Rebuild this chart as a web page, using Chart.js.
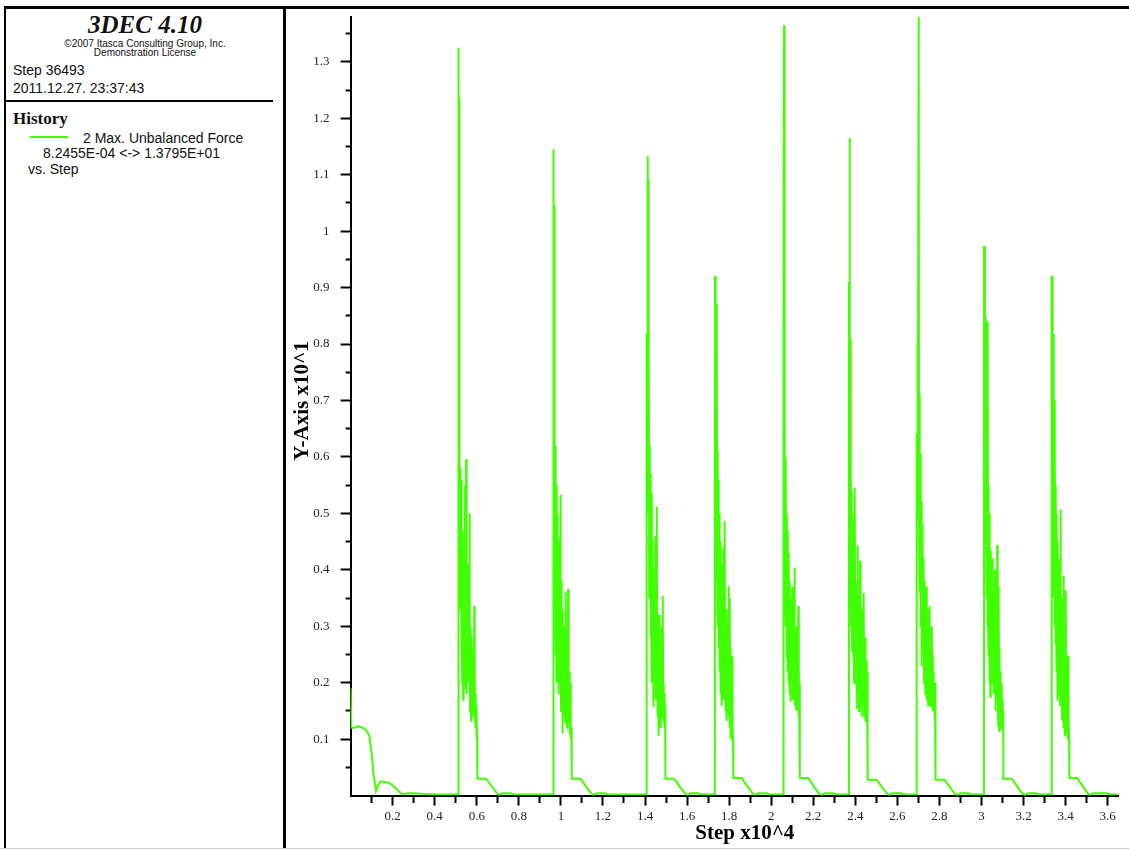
<!DOCTYPE html>
<html>
<head>
<meta charset="utf-8">
<title>3DEC 4.10 - Max. Unbalanced Force</title>
<script src="https://cdn.jsdelivr.net/npm/chart.js@4.4.1/dist/chart.umd.min.js"></script>
<style>
    html, body { margin: 0; padding: 0; background: #fff; }
    body {
        width: 1129px; height: 851px; position: relative; overflow: hidden;
        font-family: 'Liberation Sans', Arial, sans-serif; color: #111;
    }
    .rule { position: absolute; background: #000; }
    .txt { position: absolute; white-space: nowrap; }
    .sans14 { font-size: 14px; line-height: 14px; }
    .small { font-size: 10px; line-height: 10px; left: 5px; width: 280px; text-align: center; }
    .chart-box { position: absolute; left: 287px; top: 9px; width: 842px; height: 839px; }
</style>
</head>
<body>

<!-- frame -->
<div class="rule" style="left:4px; top:6px; width:1125px; height:3px;"></div>
<div class="rule" style="left:4px; top:6px; width:2px; height:843px;"></div>
<div class="rule" style="left:283px; top:6px; width:3px; height:843px;"></div>
<div class="rule" style="left:0; top:848px; width:1129px; height:1px; background:#c8c8c8;"></div>

<!-- title block -->
<div class="txt" style="left:5px; top:12px; width:280px; text-align:center; font:italic bold 25px/25px 'Liberation Serif', serif;">3DEC 4.10</div>
<div class="txt small" style="top:39px;">©2007 Itasca Consulting Group, Inc.</div>
<div class="txt small" style="top:48px;">Demonstration License</div>
<div class="txt sans14" style="left:13px; top:63px;">Step 36493</div>
<div class="txt sans14" style="left:13px; top:81px;">2011.12.27. 23:37:43</div>
<div class="rule" style="left:6px; top:100px; width:267px; height:2px;"></div>

<!-- history legend -->
<div class="txt" style="left:13px; top:110px; font:bold 17px/17px 'Liberation Serif', serif;">History</div>
<div class="rule" style="left:30px; top:136px; width:38px; height:2px; background:#40ff00;"></div>
<div class="txt sans14" style="left:83px; top:131px;">2 Max. Unbalanced Force</div>
<div class="txt sans14" style="left:43px; top:146px;">8.2455E-04 &lt;-&gt; 1.3795E+01</div>
<div class="txt sans14" style="left:28px; top:162px;">vs. Step</div>

<div class="chart-box">
    <canvas id="historyChart" width="842" height="839"></canvas>
</div>

<script>
// axis ranges: last step 36493 (x10^4), max force 1.3795E+01 (x10^1)
const stepMax = 3.6493;
const forceMax = 1.3795;

// [step x10^4, force x10^1], one list per loading cycle
const startup = [
    [0, 0.19], [0.003, 0.12], [0.02, 0.12], [0.035, 0.123], [0.05, 0.121], [0.065, 0.119],
    [0.08, 0.113], [0.09, 0.104], [0.1, 0.075], [0.11, 0.035], [0.121, 0.008], [0.13, 0.018],
    [0.142, 0.025], [0.165, 0.024], [0.185, 0.022], [0.2, 0.018], [0.22, 0.011], [0.24, 0.004],
    [0.25, 0.002], [0.27, 0.004], [0.31, 0.004], [0.34, 0.003], [0.4, 0.002], [0.5, 0.002]
];

const cycle1 = [
    [0.5115, 0.002], [0.512, 0.766], [0.5135, 0.766], [0.514, 1.325], [0.5155, 0.62], [0.516, 1.235],
    [0.5175, 0.45], [0.519, 0.61], [0.5205, 0.38], [0.522, 0.58], [0.5235, 0.33], [0.525, 0.56],
    [0.5265, 0.26], [0.528, 0.52], [0.5295, 0.3], [0.531, 0.2], [0.5325, 0.47], [0.534, 0.25],
    [0.5355, 0.17], [0.537, 0.44], [0.5385, 0.27], [0.54, 0.19], [0.5415, 0.4], [0.543, 0.23],
    [0.5445, 0.55], [0.546, 0.26], [0.5475, 0.21], [0.549, 0.596], [0.5505, 0.3], [0.552, 0.18],
    [0.5535, 0.43], [0.555, 0.24], [0.5565, 0.35], [0.558, 0.2], [0.5595, 0.37], [0.561, 0.23],
    [0.5625, 0.41], [0.564, 0.22], [0.5655, 0.5], [0.567, 0.27], [0.5685, 0.15], [0.57, 0.3],
    [0.5715, 0.18], [0.573, 0.133], [0.5745, 0.28], [0.576, 0.17], [0.5775, 0.25], [0.579, 0.15],
    [0.5805, 0.23], [0.582, 0.14], [0.5835, 0.26], [0.585, 0.19], [0.5865, 0.14], [0.588, 0.336],
    [0.5895, 0.17], [0.591, 0.21], [0.5925, 0.13], [0.594, 0.18], [0.5955, 0.12], [0.597, 0.16],
    [0.5985, 0.1], [0.6, 0.13], [0.602, 0.099], [0.603, 0.03], [0.643, 0.03], [0.65, 0.027],
    [0.67, 0.017], [0.69, 0.007], [0.706, 0.0001], [0.72, 0.004], [0.76, 0.004], [0.775, 0.002],
    [0.9, 0.002], [0.963, 0.002]
];

const cycle2 = [
    [0.9635, 0.002], [0.964, 0.86], [0.9655, 0.86], [0.966, 1.145], [0.9675, 0.55], [0.968, 1.045],
    [0.9695, 0.4], [0.9705, 0.697], [0.9715, 0.33], [0.9725, 0.62], [0.9735, 0.38], [0.9745, 0.6],
    [0.9755, 0.25], [0.9765, 0.5], [0.9775, 0.3], [0.9785, 0.55], [0.9795, 0.2], [0.9805, 0.45],
    [0.9815, 0.27], [0.9825, 0.5], [0.9835, 0.22], [0.9845, 0.4], [0.9855, 0.28], [0.9865, 0.45],
    [0.9875, 0.19], [0.9885, 0.36], [0.9895, 0.18], [0.9905, 0.42], [0.992, 0.24], [0.9935, 0.38],
    [0.995, 0.2], [0.9965, 0.46], [0.998, 0.533], [0.9995, 0.22], [1.001, 0.15], [1.0025, 0.38],
    [1.004, 0.2], [1.0055, 0.32], [1.007, 0.11], [1.0085, 0.28], [1.01, 0.33], [1.0115, 0.17],
    [1.013, 0.27], [1.0145, 0.19], [1.016, 0.3], [1.0175, 0.14], [1.019, 0.24], [1.0205, 0.13],
    [1.022, 0.36], [1.0235, 0.18], [1.025, 0.28], [1.0265, 0.14], [1.028, 0.26], [1.0295, 0.12],
    [1.031, 0.22], [1.0325, 0.15], [1.034, 0.366], [1.0355, 0.16], [1.037, 0.24], [1.0385, 0.13],
    [1.04, 0.22], [1.0415, 0.11], [1.043, 0.18], [1.0445, 0.12], [1.046, 0.2], [1.048, 0.1],
    [1.05, 0.12], [1.051, 0.1], [1.052, 0.03], [1.092, 0.03], [1.099, 0.027], [1.12, 0.016],
    [1.14, 0.006], [1.155, 0.0001], [1.17, 0.004], [1.21, 0.004], [1.225, 0.002], [1.35, 0.002],
    [1.407, 0.002]
];

const cycle3 = [
    [1.4075, 0.002], [1.408, 0.817], [1.412, 0.817], [1.413, 1.133], [1.4145, 0.6], [1.416, 1.091],
    [1.4175, 0.5], [1.419, 0.8], [1.4205, 0.35], [1.422, 0.62], [1.4235, 0.42], [1.425, 0.57],
    [1.4265, 0.28], [1.428, 0.52], [1.4295, 0.33], [1.431, 0.2], [1.4325, 0.536], [1.434, 0.3],
    [1.4355, 0.25], [1.437, 0.45], [1.4385, 0.22], [1.44, 0.38], [1.4415, 0.157], [1.443, 0.4],
    [1.4445, 0.24], [1.446, 0.35], [1.4475, 0.2], [1.449, 0.46], [1.4505, 0.27], [1.452, 0.17],
    [1.4535, 0.38], [1.455, 0.22], [1.4565, 0.512], [1.458, 0.26], [1.4595, 0.14], [1.461, 0.3],
    [1.4625, 0.18], [1.464, 0.27], [1.4655, 0.106], [1.467, 0.32], [1.4685, 0.2], [1.47, 0.15],
    [1.4715, 0.28], [1.473, 0.17], [1.4745, 0.26], [1.476, 0.12], [1.4775, 0.24], [1.479, 0.15],
    [1.4805, 0.3], [1.482, 0.14], [1.4835, 0.22], [1.485, 0.354], [1.4865, 0.18], [1.488, 0.13],
    [1.4895, 0.2], [1.491, 0.14], [1.4925, 0.18], [1.494, 0.12], [1.4955, 0.16], [1.497, 0.03],
    [1.537, 0.03], [1.544, 0.027], [1.565, 0.016], [1.585, 0.006], [1.6, 0.0001], [1.614, 0.004],
    [1.655, 0.004], [1.67, 0.002], [1.7, 0.002], [1.732, 0.002]
];

const cycle4 = [
    [1.7325, 0.002], [1.733, 0.92], [1.7345, 0.43], [1.736, 0.92], [1.7375, 0.38], [1.739, 0.871],
    [1.7405, 0.43], [1.742, 0.793], [1.7435, 0.381], [1.745, 0.613], [1.7465, 0.3], [1.748, 0.56],
    [1.7495, 0.36], [1.751, 0.26], [1.7525, 0.5], [1.754, 0.3], [1.7555, 0.22], [1.757, 0.45],
    [1.7585, 0.27], [1.76, 0.18], [1.7615, 0.41], [1.763, 0.25], [1.7645, 0.159], [1.766, 0.38],
    [1.7675, 0.22], [1.769, 0.33], [1.7705, 0.2], [1.772, 0.44], [1.7735, 0.26], [1.775, 0.17],
    [1.7765, 0.4], [1.778, 0.25], [1.7795, 0.486], [1.781, 0.22], [1.7825, 0.15], [1.784, 0.3],
    [1.7855, 0.19], [1.787, 0.132], [1.7885, 0.33], [1.79, 0.2], [1.7915, 0.28], [1.793, 0.16],
    [1.7945, 0.3], [1.796, 0.22], [1.7975, 0.14], [1.799, 0.371], [1.8005, 0.2], [1.802, 0.12],
    [1.8035, 0.35], [1.805, 0.14], [1.8065, 0.1], [1.808, 0.26], [1.8095, 0.12], [1.811, 0.2],
    [1.8125, 0.1], [1.814, 0.247], [1.8155, 0.12], [1.817, 0.14], [1.8185, 0.1], [1.82, 0.031],
    [1.86, 0.031], [1.867, 0.027], [1.89, 0.015], [1.91, 0.005], [1.923, 0.0001], [1.937, 0.004],
    [1.978, 0.004], [1.99, 0.002], [2.05, 0.002], [2.057, 0.002]
];

const cycle5 = [
    [2.0575, 0.002], [2.058, 0.74], [2.0605, 0.74], [2.061, 1.365], [2.063, 0.5], [2.0645, 0.702],
    [2.066, 0.42], [2.0675, 0.6], [2.069, 0.3], [2.0705, 0.555], [2.072, 0.35], [2.0735, 0.244],
    [2.075, 0.5], [2.0765, 0.3], [2.078, 0.22], [2.0795, 0.47], [2.081, 0.26], [2.0825, 0.2],
    [2.084, 0.43], [2.0855, 0.25], [2.087, 0.18], [2.0885, 0.38], [2.09, 0.22], [2.0915, 0.33],
    [2.093, 0.166], [2.0945, 0.35], [2.096, 0.21], [2.0975, 0.3], [2.099, 0.2], [2.1005, 0.37],
    [2.102, 0.24], [2.1035, 0.17], [2.105, 0.33], [2.1065, 0.2], [2.108, 0.3], [2.1095, 0.23],
    [2.111, 0.404], [2.1125, 0.16], [2.114, 0.3], [2.1155, 0.19], [2.117, 0.27], [2.1185, 0.153],
    [2.12, 0.28], [2.1215, 0.17], [2.123, 0.24], [2.1245, 0.15], [2.126, 0.3], [2.1275, 0.18],
    [2.129, 0.336], [2.1305, 0.14], [2.132, 0.22], [2.1335, 0.13], [2.135, 0.2], [2.1365, 0.11],
    [2.137, 0.031], [2.177, 0.031], [2.184, 0.027], [2.205, 0.015], [2.225, 0.005], [2.24, 0.0001],
    [2.254, 0.004], [2.295, 0.004], [2.31, 0.002], [2.36, 0.002], [2.369, 0.002]
];

const cycle6 = [
    [2.3695, 0.002], [2.37, 0.908], [2.3725, 0.908], [2.373, 1.165], [2.3745, 0.33], [2.376, 0.809],
    [2.3775, 0.4], [2.379, 0.62], [2.3805, 0.3], [2.382, 0.541], [2.3835, 0.35], [2.385, 0.256],
    [2.3865, 0.5], [2.388, 0.3], [2.3895, 0.46], [2.391, 0.24], [2.3925, 0.38], [2.394, 0.2],
    [2.3955, 0.42], [2.397, 0.28], [2.3985, 0.546], [2.4, 0.256], [2.4015, 0.38], [2.403, 0.22],
    [2.4045, 0.34], [2.406, 0.153], [2.4075, 0.3], [2.409, 0.2], [2.4105, 0.443], [2.412, 0.18],
    [2.4135, 0.34], [2.415, 0.2], [2.4165, 0.3], [2.418, 0.15], [2.4195, 0.3], [2.421, 0.22],
    [2.4225, 0.416], [2.424, 0.16], [2.4255, 0.3], [2.427, 0.2], [2.4285, 0.26], [2.43, 0.14],
    [2.4315, 0.33], [2.433, 0.19], [2.4345, 0.27], [2.436, 0.16], [2.4375, 0.3], [2.439, 0.2],
    [2.4405, 0.359], [2.442, 0.14], [2.4435, 0.25], [2.445, 0.17], [2.4465, 0.28], [2.448, 0.13],
    [2.4495, 0.24], [2.451, 0.16], [2.4525, 0.22], [2.454, 0.15], [2.4555, 0.24], [2.457, 0.15],
    [2.4585, 0.22], [2.459, 0.028], [2.499, 0.028], [2.506, 0.026], [2.527, 0.015], [2.547, 0.005],
    [2.562, 0.0001], [2.576, 0.004], [2.617, 0.004], [2.63, 0.002], [2.69, 0.002], [2.6915, 0.002]
];

const cycle7 = [
    [2.692, 0.002], [2.6925, 0.64], [2.695, 0.64], [2.6955, 0.806], [2.698, 0.49], [2.7015, 1.3795],
    [2.703, 0.488], [2.7045, 0.712], [2.706, 0.36], [2.7075, 0.66], [2.709, 0.4], [2.7105, 0.605],
    [2.712, 0.3], [2.7135, 0.52], [2.715, 0.34], [2.7165, 0.229], [2.718, 0.48], [2.7195, 0.28],
    [2.721, 0.25], [2.7225, 0.42], [2.724, 0.26], [2.7255, 0.408], [2.727, 0.2], [2.7285, 0.35],
    [2.73, 0.22], [2.7315, 0.381], [2.733, 0.18], [2.7345, 0.32], [2.736, 0.2], [2.7375, 0.37],
    [2.739, 0.24], [2.7405, 0.17], [2.742, 0.33], [2.7435, 0.2], [2.745, 0.3], [2.7465, 0.16],
    [2.748, 0.29], [2.7495, 0.19], [2.751, 0.25], [2.7525, 0.16], [2.754, 0.336], [2.7555, 0.2],
    [2.757, 0.157], [2.7585, 0.28], [2.76, 0.17], [2.7615, 0.24], [2.763, 0.16], [2.7645, 0.3],
    [2.766, 0.18], [2.7675, 0.15], [2.769, 0.25], [2.7705, 0.16], [2.772, 0.22], [2.7735, 0.15],
    [2.775, 0.2], [2.7765, 0.14], [2.778, 0.18], [2.7795, 0.13], [2.781, 0.2], [2.782, 0.028],
    [2.822, 0.028], [2.829, 0.026], [2.85, 0.015], [2.87, 0.005], [2.885, 0.0001], [2.899, 0.004],
    [2.94, 0.004], [2.953, 0.002], [3.0, 0.002], [3.0115, 0.002]
];

const cycle8 = [
    [3.012, 0.972], [3.016, 0.972], [3.0165, 0.5], [3.018, 0.846], [3.0195, 0.45], [3.021, 0.7],
    [3.0225, 0.43], [3.024, 0.6], [3.0255, 0.35], [3.027, 0.84], [3.0285, 0.3], [3.03, 0.84],
    [3.0315, 0.32], [3.033, 0.55], [3.0345, 0.246], [3.036, 0.5], [3.0375, 0.3], [3.039, 0.2],
    [3.0405, 0.45], [3.042, 0.175], [3.0435, 0.434], [3.045, 0.26], [3.0465, 0.2], [3.048, 0.4],
    [3.0495, 0.24], [3.051, 0.38], [3.0525, 0.22], [3.054, 0.42], [3.0555, 0.26], [3.057, 0.18],
    [3.0585, 0.36], [3.06, 0.2], [3.0615, 0.33], [3.063, 0.2], [3.0645, 0.4], [3.066, 0.23],
    [3.0675, 0.15], [3.069, 0.35], [3.0705, 0.2], [3.072, 0.3], [3.0735, 0.24], [3.075, 0.444],
    [3.0765, 0.17], [3.078, 0.2], [3.0795, 0.125], [3.081, 0.3], [3.0825, 0.371], [3.084, 0.115],
    [3.0855, 0.26], [3.087, 0.15], [3.0885, 0.22], [3.09, 0.13], [3.0915, 0.2], [3.093, 0.12],
    [3.0945, 0.18], [3.096, 0.13], [3.0975, 0.2], [3.099, 0.12], [3.1005, 0.17], [3.102, 0.12],
    [3.1035, 0.15], [3.104, 0.03], [3.144, 0.03], [3.151, 0.027], [3.172, 0.015], [3.192, 0.005],
    [3.207, 0.0001], [3.221, 0.004], [3.262, 0.004], [3.275, 0.002], [3.32, 0.002], [3.3335, 0.002]
];

const cycle9 = [
    [3.334, 0.921], [3.3355, 0.443], [3.337, 0.921], [3.3385, 0.45], [3.34, 0.882], [3.3415, 0.42],
    [3.343, 0.818], [3.3445, 0.35], [3.346, 0.7], [3.3475, 0.3], [3.349, 0.635], [3.3505, 0.4],
    [3.352, 0.269], [3.3535, 0.55], [3.355, 0.3], [3.3565, 0.22], [3.358, 0.5], [3.3595, 0.28],
    [3.361, 0.168], [3.3625, 0.45], [3.364, 0.25], [3.3655, 0.2], [3.367, 0.42], [3.3685, 0.26],
    [3.37, 0.18], [3.3715, 0.4], [3.373, 0.24], [3.3745, 0.16], [3.376, 0.507], [3.3775, 0.22],
    [3.379, 0.3], [3.3805, 0.2], [3.382, 0.35], [3.3835, 0.135], [3.385, 0.3], [3.3865, 0.2],
    [3.388, 0.15], [3.3895, 0.39], [3.391, 0.18], [3.3925, 0.12], [3.394, 0.3], [3.3955, 0.2],
    [3.397, 0.105], [3.3985, 0.25], [3.4, 0.15], [3.4015, 0.364], [3.403, 0.12], [3.4045, 0.2],
    [3.406, 0.11], [3.4075, 0.18], [3.409, 0.1], [3.4105, 0.16], [3.412, 0.248], [3.4135, 0.1],
    [3.415, 0.14], [3.4165, 0.1], [3.418, 0.031], [3.456, 0.031], [3.463, 0.027], [3.485, 0.015],
    [3.503, 0.005], [3.516, 0.0001], [3.53, 0.004], [3.597, 0.004], [3.61, 0.002], [3.6493, 0.002]
];

const lineColor = '#40ff00';

function isMultipleOf(value, step) {
    const q = value / step;
    return Math.abs(q - Math.round(q)) < 1e-6;
}

// every other tick carries a label, the rest are short minor marks
function axisLabel(value, labelStep) {
    if (value === 0 || !isMultipleOf(value, labelStep)) return '';
    return String(Math.round(value * 10) / 10);
}

function createHistoryChart(canvas) {
    const history = [].concat(startup, cycle1, cycle2, cycle3, cycle4,
        cycle5, cycle6, cycle7, cycle8, cycle9);

    const tickFont = { family: 'Liberation Serif', size: 13 };
    const titleFont = { family: 'Liberation Serif', size: 21, weight: 'bold' };

    new Chart(canvas.getContext('2d'), {
        type: 'line',
        data: {
            datasets: [{
                label: '2 Max. Unbalanced Force',
                data: history,
                borderColor: lineColor,
                borderWidth: 2,
                pointRadius: 0,
                tension: 0,
                fill: false
            }]
        },
        options: {
            responsive: false,
            animation: false,
            devicePixelRatio: 1,
            layout: {
                padding: { top: 8, right: 11, left: 0, bottom: 0 }
            },
            plugins: {
                legend: { display: false },
                tooltip: { enabled: false }
            },
            scales: {
                x: {
                    type: 'linear',
                    min: 0,
                    max: stepMax,
                    // fixed axis band, no extra room asked for the end labels
                    afterFit: scale => {
                        scale.height = 52.4;
                        scale.paddingLeft = 0;
                        scale.paddingRight = 0;
                    },
                    border: { color: '#000', width: 2 },
                    grid: {
                        drawOnChartArea: false,
                        tickLength: 10,
                        tickWidth: 2,
                        tickColor: ctx => ctx.tick.value === 0 ? 'rgba(0,0,0,0)' : '#000',
                        tickBorderDash: ctx => isMultipleOf(ctx.tick.value, 0.2) ? [] : [6, 100]
                    },
                    ticks: {
                        stepSize: 0.1,
                        includeBounds: false,
                        autoSkip: false,
                        maxRotation: 0,
                        padding: 3,
                        color: '#222',
                        font: tickFont,
                        callback: value => axisLabel(value, 0.2)
                    },
                    title: {
                        display: true,
                        text: '    Step x10^4',
                        color: '#000',
                        font: titleFont,
                        padding: { top: 0, bottom: 2 }
                    }
                },
                y: {
                    type: 'linear',
                    min: 0,
                    max: forceMax,
                    afterFit: scale => {
                        scale.width = 63.6;
                        scale.paddingTop = 0;
                        scale.paddingBottom = 0;
                    },
                    border: { color: '#000', width: 2 },
                    grid: {
                        drawOnChartArea: false,
                        tickLength: 10,
                        tickWidth: 2,
                        tickColor: ctx => ctx.tick.value === 0 ? 'rgba(0,0,0,0)' : '#000',
                        tickBorderDash: ctx => isMultipleOf(ctx.tick.value, 0.1) ? [] : [0, 5, 100]
                    },
                    ticks: {
                        stepSize: 0.05,
                        includeBounds: false,
                        autoSkip: false,
                        padding: 11,
                        color: '#222',
                        font: tickFont,
                        callback: value => axisLabel(value, 0.1)
                    },
                    title: {
                        display: true,
                        text: '  Y-Axis x10^1',
                        color: '#000',
                        font: titleFont,
                        padding: { top: 3, bottom: 0 }
                    }
                }
            }
        }
    });
}

document.addEventListener('DOMContentLoaded', () => {
    createHistoryChart(document.getElementById('historyChart'));
});
</script>
</body>
</html>
